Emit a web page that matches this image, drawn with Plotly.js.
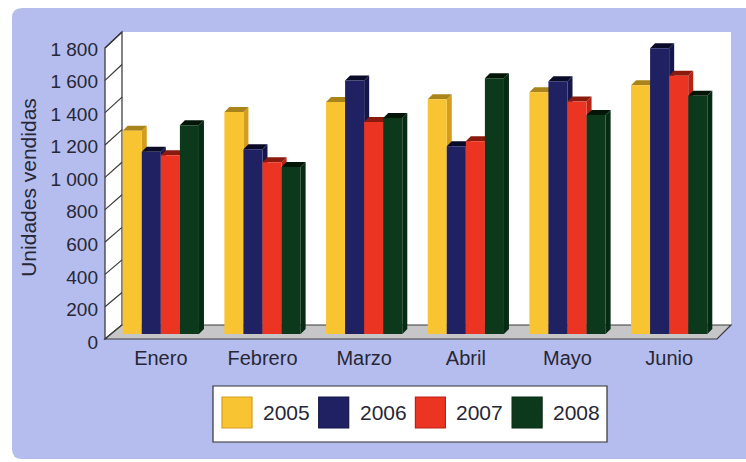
<!DOCTYPE html>
<html><head><meta charset="utf-8">
<script src="https://cdn.plot.ly/plotly-3.0.1.min.js"></script>
<style>html,body{margin:0;padding:0;background:#fff;}#chart{width:746px;height:462px;}</style>
</head><body><div id="chart"></div>
<script>
// ---------- data ----------
const months = ['Enero', 'Febrero', 'Marzo', 'Abril', 'Mayo', 'Junio'];
const years = ['2005', '2006', '2007', '2008'];
const v2005 = [1248, 1364, 1425, 1442, 1485, 1528];
const v2006 = [1119, 1135, 1558, 1153, 1552, 1755];
const v2007 = [1098, 1055, 1303, 1184, 1429, 1586];
const v2008 = [1282, 1026, 1327, 1571, 1345, 1464];
const yTicks = [0, 200, 400, 600, 800, 1000, 1200, 1400, 1600, 1800];
const yTitle = 'Unidades vendidas';

// ---------- styles ----------
const frontColors = ['#f9c431', '#1f2163', '#ec3423', '#0c381b'];
const sideColors  = ['#d49d1e', '#15174b', '#b92314', '#072a13'];
const topColors   = ['#a8841a', '#0a0b28', '#8a1a0e', '#031608'];
const FONT = '"Liberation Sans", Arial, sans-serif';
const TXT = '#272735';
const series = [v2005, v2006, v2007, v2008];

// ---------- geometry helpers (pixels -> paper) ----------
const W = 746, H = 462;
const mL = 104, mR = 14, mT = 32, mB = 120;
const PW = W - mL - mR, PH = H - mT - mB;
const fx = x => (x - mL) / PW;
const fy = y => (H - mB - y) / PH;
const YMAX = 1800;

// planes
const back = {l: 122, r: 731, t: 32, b: 325};
const bars = {l: 110, r: 720, t: 41, b: 334};
const front = {l: 105, r: 717, t: 48, b: 339};

const nCat = months.length, nSer = series.length;
const groupW = 0.75, barW = groupW / nSer;
const DEPTH = 5;
const dxC = DEPTH / ((bars.r - bars.l) / nCat);
const dyV = DEPTH / ((bars.b - bars.t) / YMAX);

const shapes = [];
// panel (rounded)
(function () {
  const l = 12, r = 770, t = 8, b = 459, rr = 10;
  shapes.push({type: 'path', xref: 'paper', yref: 'paper', layer: 'below',
    path: `M${fx(l + rr)},${fy(t)} L${fx(r)},${fy(t)} L${fx(r)},${fy(b)} L${fx(l + rr)},${fy(b)} Q${fx(l)},${fy(b)} ${fx(l)},${fy(b - rr)} L${fx(l)},${fy(t + rr)} Q${fx(l)},${fy(t)} ${fx(l + rr)},${fy(t)} Z`,
    fillcolor: '#b5bdee', line: {width: 0}});
})();
// back wall
shapes.push({type: 'rect', xref: 'paper', yref: 'paper', layer: 'below',
  x0: fx(back.l), x1: fx(back.r), y0: fy(back.b), y1: fy(back.t), fillcolor: '#ffffff', line: {width: 0}});
// left wall
shapes.push({type: 'path', xref: 'paper', yref: 'paper', layer: 'below',
  path: `M${fx(front.l)},${fy(front.t)} L${fx(back.l)},${fy(back.t)} L${fx(back.l)},${fy(back.b)} L${fx(front.l)},${fy(front.b)} Z`,
  fillcolor: '#ffffff', line: {color: '#333', width: 1.2}});
// left wall diagonals
const yFront = t => front.b - (front.b - front.t) * t / YMAX;
const yBack = t => back.b - (back.b - back.t) * t / YMAX;
yTicks.forEach(t => {
  shapes.push({type: 'line', xref: 'paper', yref: 'paper', layer: 'below',
    x0: fx(front.l), y0: fy(yFront(t)), x1: fx(back.l), y1: fy(yBack(t)), line: {color: '#3a3a3a', width: 1.2}});
});
// floor
shapes.push({type: 'path', xref: 'paper', yref: 'paper', layer: 'below',
  path: `M${fx(front.l)},${fy(front.b)} L${fx(front.r)},${fy(front.b)} L${fx(back.r)},${fy(back.b)} L${fx(back.l)},${fy(back.b)} Z`,
  fillcolor: '#c6c6c8', line: {color: '#3a3a3a', width: 1.2}});

// 3D faces of bars (from data)
series.forEach((vals, j) => {
  vals.forEach((v, i) => {
    const xl = i - groupW / 2 + j * barW, xr = xl + barW;
    shapes.push({type: 'path', xref: 'x2', yref: 'y2', layer: 'below',
      path: `M${xr},0 L${xr},${v} L${xr + dxC},${v + dyV} L${xr + dxC},${dyV} Z`,
      fillcolor: sideColors[j], line: {width: 0}});
    shapes.push({type: 'path', xref: 'x2', yref: 'y2', layer: 'below',
      path: `M${xl},${v} L${xr},${v} L${xr + dxC},${v + dyV} L${xl + dxC},${v + dyV} Z`,
      fillcolor: topColors[j], line: {width: 0}});
  });
});

// legend (custom, big swatches)
const leg = {l: 213, r: 607, t: 386, b: 442, sw0: 222, sw: 30, swT: 397, swB: 428, step: 96.7, tx0: 261, ty: 412};
shapes.push({type: 'rect', xref: 'paper', yref: 'paper', layer: 'below',
  x0: fx(leg.l), x1: fx(leg.r), y0: fy(leg.b), y1: fy(leg.t), fillcolor: '#ffffff', line: {color: '#333', width: 1.2}});
const annotations = [];
years.forEach((y, j) => {
  shapes.push({type: 'rect', xref: 'paper', yref: 'paper', layer: 'below',
    x0: fx(leg.sw0 + j * leg.step), x1: fx(leg.sw0 + j * leg.step + leg.sw), y0: fy(leg.swB), y1: fy(leg.swT),
    fillcolor: frontColors[j], line: {color: sideColors[j], width: 1.2}});
  annotations.push({xref: 'paper', yref: 'paper', x: fx(leg.tx0 + j * leg.step), y: fy(leg.ty), xanchor: 'left', yanchor: 'middle',
    text: y, showarrow: false, font: {family: FONT, size: 21, color: TXT}});
});

// ---------- traces ----------
const traces = series.map((vals, j) => ({
  type: 'bar', x: months, y: vals, name: years[j], xaxis: 'x2', yaxis: 'y2',
  marker: {color: frontColors[j], line: {width: 0}}, showlegend: false, hoverinfo: 'skip'
}));

const layout = {
  width: W, height: H,
  margin: {l: mL, r: mR, t: mT, b: mB, pad: 0},
  paper_bgcolor: '#ffffff', plot_bgcolor: 'rgba(0,0,0,0)',
  separators: ', ',
  barmode: 'group', bargap: 1 - groupW, bargroupgap: 0,
  showlegend: false,
  font: {family: FONT, color: TXT},
  // back wall
  xaxis: {domain: [fx(back.l), fx(back.r)], range: [-0.5, nCat - 0.5], showgrid: false, zeroline: false,
    showticklabels: false, ticks: '', showline: true, mirror: true, linecolor: '#333', linewidth: 1.2, anchor: 'y'},
  yaxis: {domain: [fy(back.b), fy(back.t)], range: [0, YMAX], tickvals: yTicks, showgrid: true, gridcolor: '#3a3a3a', gridwidth: 1.2,
    zeroline: false, showticklabels: false, ticks: '', showline: true, mirror: true, linecolor: '#333', linewidth: 1.2, anchor: 'x'},
  // bar plane (carries the labels)
  xaxis2: {domain: [fx(bars.l), fx(bars.r)], type: 'category', categoryarray: months, range: [-0.5, nCat - 0.5],
    showgrid: false, zeroline: false, showline: false, ticks: '', ticklabelstandoff: 10,
    tickfont: {family: FONT, size: 20, color: TXT}, anchor: 'y2'},
  yaxis2: {domain: [fy(bars.b), fy(bars.t)], range: [0, YMAX], tickmode: 'array', tickvals: yTicks, separatethousands: true,
    showgrid: false, zeroline: false, showline: false, ticks: '', ticklabelstandoff: 11, ticklabelshift: 8,
    tickfont: {family: FONT, size: 19, color: TXT}, anchor: 'x2',
    title: {text: yTitle, font: {family: FONT, size: 21, color: TXT}, standoff: 8}},
  shapes: shapes,
  annotations: annotations
};

Plotly.newPlot('chart', traces, layout, {staticPlot: true, displayModeBar: false});
</script>
</body></html>
